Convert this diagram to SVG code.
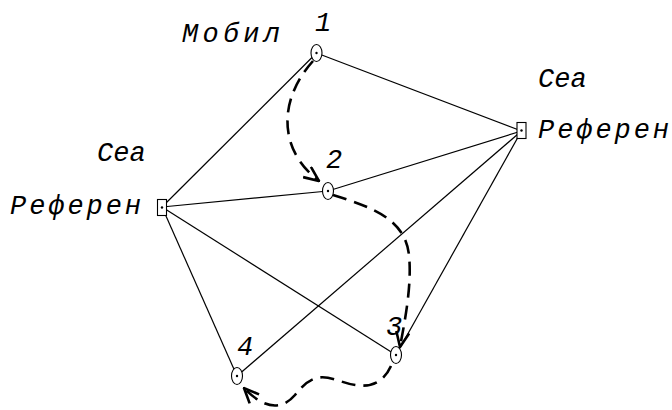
<svg xmlns="http://www.w3.org/2000/svg" width="672" height="410" viewBox="0 0 672 410">
<style>
.e{stroke:#000;stroke-width:1.2;fill:none}
.d{stroke:#000;stroke-width:2.6;fill:none;stroke-dasharray:14 8}
.n{fill:#fff;stroke:#000;stroke-width:1.1}
.t{font-family:"Liberation Mono","DejaVu Sans Mono",monospace;font-style:italic;font-size:27px;fill:#000}
</style>
<defs>
<marker id="ah" viewBox="0 0 17 15" refX="16" refY="7.5" markerWidth="17" markerHeight="15" markerUnits="userSpaceOnUse" orient="auto">
<path d="M1,1 L16,7.5 L1,14" fill="none" stroke="#000" stroke-width="2.6"/>
</marker>
</defs>
<rect width="672" height="410" fill="#fff"/>
<g id="connectors">
<line class="e" x1="316.5" y1="53" x2="521.5" y2="131"/>
<line class="e" x1="316.5" y1="53" x2="162" y2="207"/>
<line class="e" x1="162" y1="207" x2="328" y2="191"/>
<line class="e" x1="328" y1="191" x2="521.5" y2="131"/>
<line class="e" x1="162" y1="207" x2="396" y2="355"/>
<line class="e" x1="162" y1="207" x2="237" y2="376"/>
<line class="e" x1="237" y1="376" x2="521.5" y2="131"/>
<line class="e" x1="396" y1="355" x2="521.5" y2="131"/>
<path class="d" d="M313,61 C278,100 278,150 319,181" marker-end="url(#ah)"/>
<path class="d" d="M333,195 C375,208 405,220 409,255 C412,285 405,320 400,347" marker-end="url(#ah)"/>
<path class="d" d="M391,366 C380,390 360,388 340,381 C320,374 310,376 295,395 C282,410 265,410 244,388" marker-end="url(#ah)"/>
</g>
<g id="ref-left">
<rect class="n" x="157.5" y="199.5" width="9" height="16"/>
<circle cx="162" cy="207.5" r="1.2"/>
<text class="t" x="97" y="161">Cea</text>
<text class="t" x="10" y="214" textLength="131" lengthAdjust="spacing">Референ</text>
</g>
<g id="ref-right">
<rect class="n" x="517" y="122.5" width="9" height="16"/>
<circle cx="521.5" cy="130.5" r="1.2"/>
<text class="t" x="538" y="87">Cea</text>
<text class="t" x="538" y="138" textLength="131" lengthAdjust="spacing">Референ</text>
</g>
<g id="node1">
<ellipse class="n" cx="316.5" cy="53" rx="5.5" ry="8.5"/>
<circle cx="316.5" cy="53" r="1.2"/>
<text class="t" x="315" y="31">1</text>
<text class="t" x="182" y="42" textLength="98" lengthAdjust="spacing">Мобил</text>
</g>
<g id="node2">
<ellipse class="n" cx="328" cy="191" rx="5.5" ry="8.5"/>
<circle cx="328" cy="191" r="1.2"/>
<text class="t" x="326" y="168">2</text>
</g>
<g id="node3">
<ellipse class="n" cx="396" cy="355" rx="5.5" ry="8.5"/>
<circle cx="396" cy="355" r="1.2"/>
<text class="t" x="386" y="335">3</text>
</g>
<g id="node4">
<ellipse class="n" cx="237" cy="376" rx="5.5" ry="8.5"/>
<circle cx="237" cy="376" r="1.2"/>
<text class="t" x="237" y="355">4</text>
</g>
</svg>
